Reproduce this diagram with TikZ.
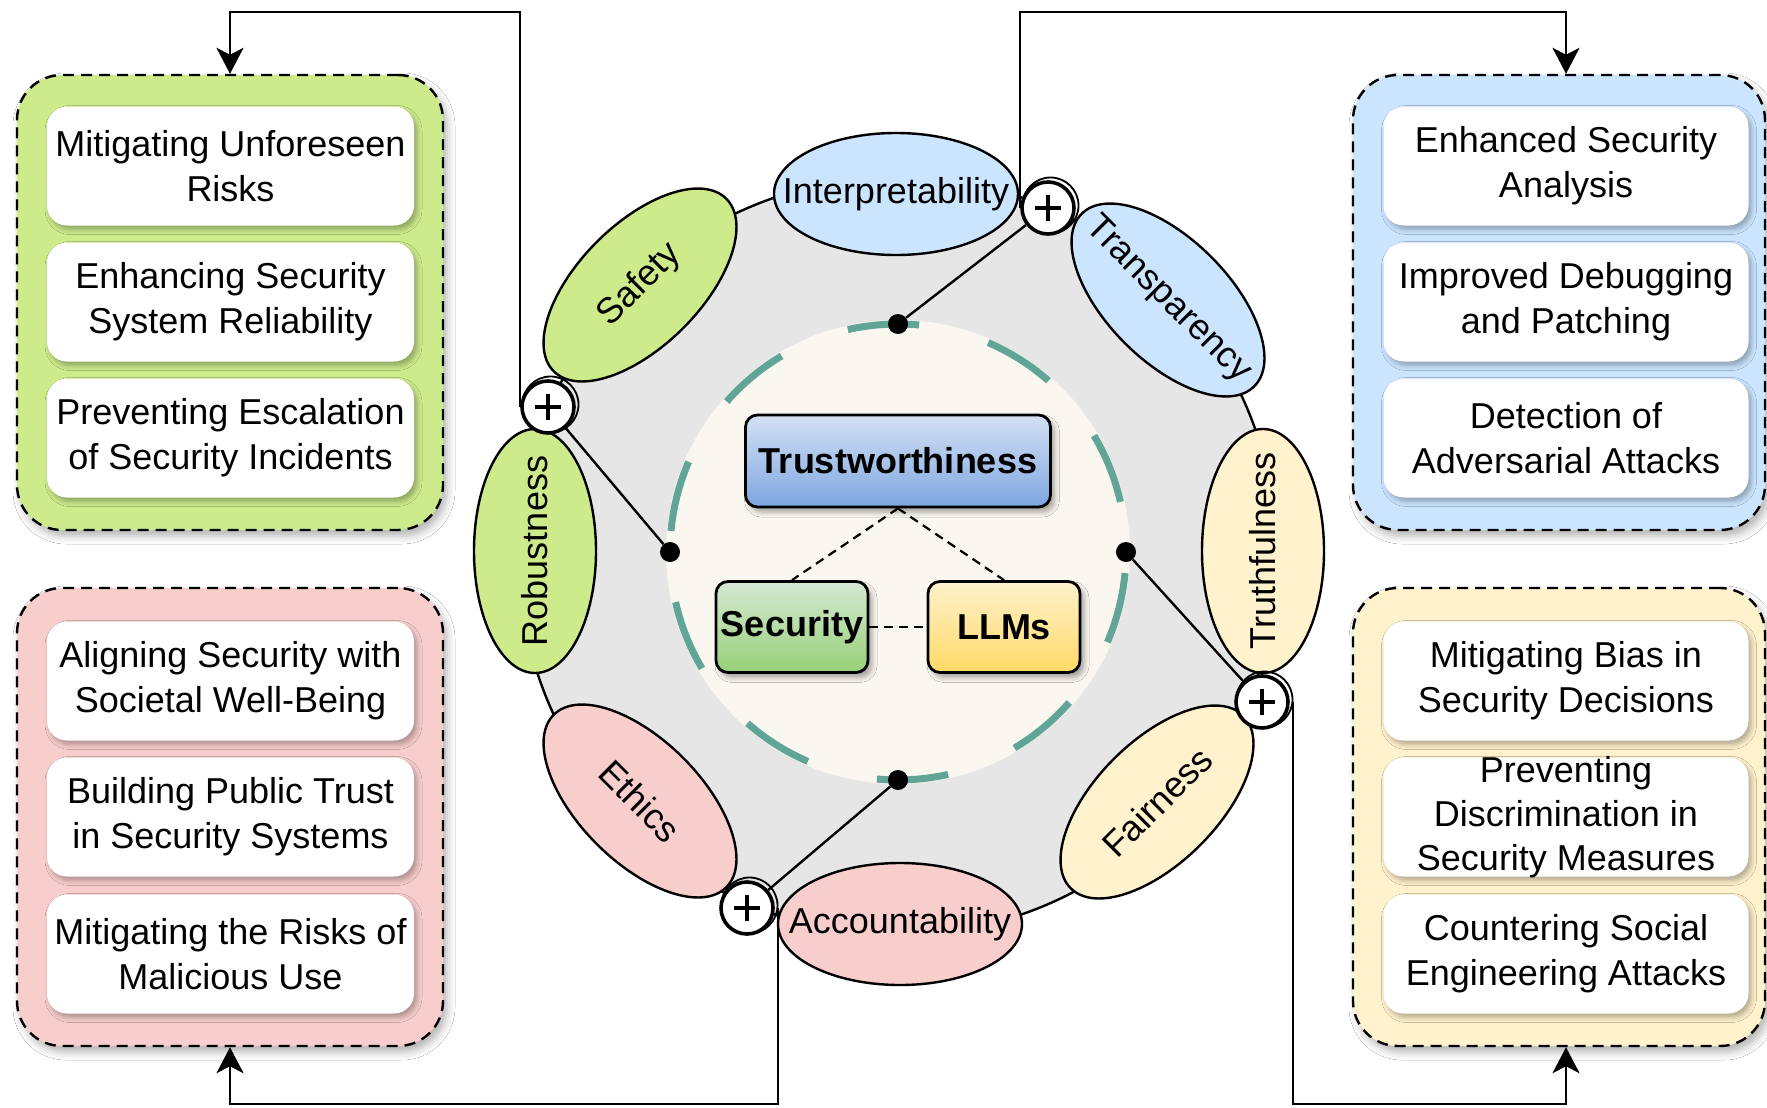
\documentclass[tikz,border=0pt]{standalone}
\usepackage{fontspec}
\setmainfont{Liberation Sans}
\usetikzlibrary{shapes.geometric, arrows.meta, shadows.blur}

\definecolor{grpgreen}{HTML}{CDEB8B}
\definecolor{grppink}{HTML}{F8CECC}
\definecolor{grpblue}{HTML}{CCE5FF}
\definecolor{grpyellow}{HTML}{FFF2CC}
\definecolor{ringgray}{HTML}{E6E6E6}
\definecolor{corecream}{HTML}{F9F7EF}
\definecolor{ringteal}{RGB}{96,165,150}
\definecolor{trusttop}{HTML}{D4E1F5}
\definecolor{trustbot}{HTML}{7EA6E0}
\definecolor{sectop}{HTML}{D5E8D4}
\definecolor{secbot}{HTML}{97D077}
\definecolor{llmtop}{HTML}{FFF2CC}
\definecolor{llmbot}{HTML}{FFD966}

\begin{document}
\begin{tikzpicture}[x=1pt, y=-1pt,
  link/.style={line width=2.4pt, draw=black},
  tip/.style={-{Stealth[length=26pt,width=27pt,inset=7pt]}},
  group/.style={rectangle, rounded corners=45pt, draw=black, line width=2.4pt,
    dash pattern=on 11pt off 7pt, inner sep=0pt,
    blur shadow={shadow xshift=4pt, shadow yshift=-6pt, shadow blur radius=8pt, shadow opacity=30}},
  itembox/.style={rectangle, rounded corners=20pt, fill=white, minimum width=367pt,
    minimum height=119pt, inner sep=0pt,
    blur shadow={shadow xshift=3pt, shadow yshift=-4pt, shadow blur radius=5pt, shadow opacity=30}},
  itemtext/.style={align=center, font=\fontsize{36}{45}\selectfont, inner sep=0pt},
  petal/.style={ellipse, draw=black, line width=2.4pt, minimum width=244pt,
    minimum height=122pt, inner sep=0pt, font=\fontsize{36}{45}\selectfont},
  core/.style={rectangle, rounded corners=12pt, draw=black, line width=2.8pt, inner sep=0pt,
    minimum height=91pt, font=\bfseries\fontsize{36}{45}\selectfont,
    blur shadow={shadow xshift=4pt, shadow yshift=-5pt, shadow blur radius=5pt, shadow opacity=35}},
  hub/.style={circle, draw=black, line width=3.6pt, fill=white, minimum size=52pt, inner sep=0pt,
    path picture={\draw[line width=3.6pt]
      ([xshift=-13pt]path picture bounding box.center) -- ([xshift=13pt]path picture bounding box.center)
      ([yshift=-13pt]path picture bounding box.center) -- ([yshift=13pt]path picture bounding box.center);}},
  hubring/.style={line width=1.8pt, draw=black},
  dot/.style={circle, fill=black, minimum size=20pt, inner sep=0pt},
  coredash/.style={line width=2.2pt, dash pattern=on 9pt off 6pt},
  tealarc/.style={line width=7pt, draw=ringteal},
]
\useasboundingbox (0,0) rectangle (1767,1108);
\fill[white] (0,0) rectangle (1767,1108);

% routing levels of the outer connectors
\coordinate (topline) at (0,12);
\coordinate (botline) at (0,1104);

% ---------- ring ----------
\coordinate (C) at (898,552);
\draw[link, fill=ringgray] (898,556) circle[radius=379pt];
\fill[corecream] (C) circle[radius=232pt];
\foreach \k in {0,...,9}
  \draw[tealarc] (C) ++({-84.7-36*\k}:228) arc[start angle={-84.7-36*\k}, end angle={-102.7-36*\k}, radius=228];

% ---------- core ----------
\node[core, top color=trusttop, bottom color=trustbot, minimum width=305pt, minimum height=92pt]
  (trust) at (898,461) {Trustworthiness};
\node[core, top color=sectop, bottom color=secbot, minimum width=152pt] (sec) at (792,627) {Security};
\node[core, top color=llmtop, bottom color=llmbot, minimum width=152pt] (llm) at (1004,627) {LLMs};
\draw[coredash] (trust.south) -- (sec.north);
\draw[coredash] (trust.south) -- (llm.north);
\draw[coredash] (sec.east) -- (llm.west);

% ---------- anchor dots on the dashed circle ----------
\node[dot] (dR) at (1126,552) {};
\node[dot] (dT) at (898,324) {};
\node[dot] (dL) at (670,552) {};
\node[dot] (dB) at (898,780) {};

% ---------- hubs (outline only here, marks drawn last) ----------
\coordinate (hTLc) at (548,407);
\coordinate (hTRc) at (1048,208);
\coordinate (hBLc) at (747,908);
\coordinate (hBRc) at (1262,702);
\node[hub, draw=none, fill=none, path picture={}] (hTL) at (hTLc) {};
\node[hub, draw=none, fill=none, path picture={}] (hTR) at (hTRc) {};
\node[hub, draw=none, fill=none, path picture={}] (hBL) at (hBLc) {};
\node[hub, draw=none, fill=none, path picture={}] (hBR) at (hBRc) {};
\draw[link] (hTL) -- (dL);
\draw[link] (hTR) -- (dT);
\draw[link] (hBL) -- (dB);
\draw[link] (hBR) -- (dR);

% ---------- petals ----------
\node[petal, fill=grpblue] (interp) at (896,194) {\makebox[0pt]{Interpretability}};
\node[petal, fill=grpblue, rotate=-45] (transp) at (1168,300) {\makebox[0pt]{Transparency}};
\node[petal, fill=grpyellow, rotate=90] (truth) at (1263,551) {\makebox[0pt]{Truthfulness}};
\node[petal, fill=grpyellow, rotate=45] (fair) at (1157,802) {\makebox[0pt]{Fairness}};
\node[petal, fill=grppink] (acc) at (900,924) {\makebox[0pt]{Accountability}};
\node[petal, fill=grppink, rotate=-45] (ethics) at (640,801) {\makebox[0pt]{Ethics}};
\node[petal, fill=grpgreen, rotate=90] (robust) at (535,551) {\makebox[0pt]{Robustness}};
\node[petal, fill=grpgreen, rotate=45] (safety) at (640,285) {\makebox[0pt]{Safety}};

% ---------- groups ----------
\node[group, fill=grpgreen, minimum width=426pt, minimum height=455pt] (gG) at (230,302.5) {};
\node[group, fill=grppink, minimum width=426pt, minimum height=458pt] (gP) at (230,817) {};
\node[group, fill=grpblue, minimum width=412pt, minimum height=455pt] (gB) at (1559,302.5) {};
\node[group, fill=grpyellow, minimum width=412pt, minimum height=458pt] (gY) at (1559,817) {};

\node[itembox] (g1) at (230.5,166) {};
\node[itembox] (g2) at (230.5,302) {};
\node[itembox] (g3) at (230.5,438) {};
\node[itembox] (p1) at (230.5,681) {};
\node[itembox] (p2) at (230.5,817) {};
\node[itembox] (p3) at (230.5,954) {};
\node[itembox, minimum width=365pt] (b1) at (1566,166) {};
\node[itembox, minimum width=365pt] (b2) at (1566,302) {};
\node[itembox, minimum width=365pt] (b3) at (1566,438) {};
\node[itembox, minimum width=365pt] (y1) at (1566,681) {};
\node[itembox, minimum width=365pt] (y2) at (1566,817) {};
\node[itembox, minimum width=365pt] (y3) at (1566,954) {};

\node[itemtext] at (g1) {Mitigating Unforeseen\\Risks};
\node[itemtext] at (g2) {Enhancing Security\\System Reliability};
\node[itemtext] at (g3) {Preventing Escalation\\of Security Incidents};
\node[itemtext] at (p1) {Aligning Security with\\Societal Well-Being};
\node[itemtext] at (p2) {Building Public Trust\\in Security Systems};
\node[itemtext] at (p3) {Mitigating the Risks of\\Malicious Use};
\node[itemtext] at (b1) {Enhanced Security\\Analysis};
\node[itemtext] at (b2) {Improved Debugging\\and Patching};
\node[itemtext] at (b3) {Detection of\\Adversarial Attacks};
\node[itemtext] at (y1) {Mitigating Bias in\\Security Decisions};
\node[itemtext, font=\fontsize{36}{44}\selectfont] at (y2) {Preventing\\Discrimination in\\Security Measures};
\node[itemtext] at (y3) {Countering Social\\Engineering Attacks};

% ---------- outer connectors ----------
\draw[link, tip] (hTL.west) -- (hTL.west |- topline) -| (gG.north);
\draw[link, tip] (hTR.west) -- (hTR.west |- topline) -| (b1.north |- gB.north);
\draw[link, tip] ([xshift=3pt]hBL.east) -- ([xshift=3pt]hBL.east |- botline) -| (gP.south);
\draw[link, tip] ([xshift=3pt]hBR.east) -- ([xshift=3pt]hBR.east |- botline) -| (y3.south |- gY.south);

% ---------- hub marks ----------
\foreach \h in {hTLc,hTRc,hBLc,hBRc} {
  \draw[hubring] ([shift={(2.5pt,2.5pt)}]\h) circle[radius=28pt];
  \node[hub] at (\h) {};
}
\end{tikzpicture}
\end{document}
